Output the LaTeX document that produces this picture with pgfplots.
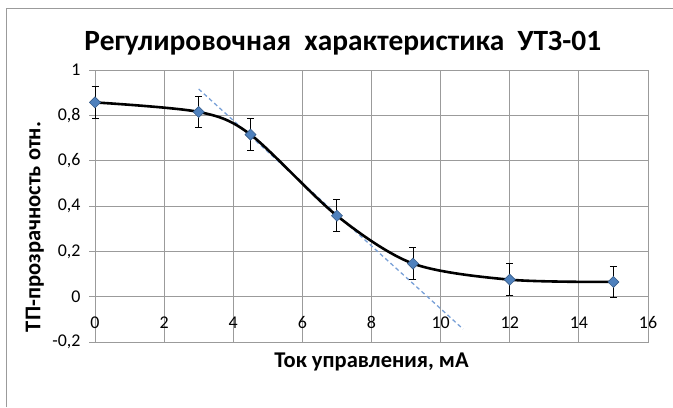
\documentclass[border=0pt]{standalone}
\usepackage{pgfplots}
\pgfplotsset{compat=1.18}
\usepackage{fontspec}
\setmainfont{Carlito}
\definecolor{gridgray}{RGB}{155,155,155}
\definecolor{mkfill}{RGB}{79,129,189}
\definecolor{mkdraw}{RGB}{56,93,138}
\definecolor{dashblue}{RGB}{120,160,215}
\begin{document}
\begin{tikzpicture}[x=1bp,y=1bp]
\useasboundingbox (0,0) rectangle (673,407);
\draw[gridgray, line width=1.2bp] (6.5,0) -- (6.5,398.5) -- (673,398.5);
\begin{axis}[
  at={(95bp,65bp)}, anchor=south west,
  scale only axis, width=553bp, height=272bp,
  xmin=0, xmax=16, ymin=-0.2, ymax=1,
  xtick={0,2,...,16}, ytick={-0.2,0,0.2,0.4,0.6,0.8,1},
  grid=major,
  major grid style={gridgray, line width=0.9bp},
  axis line style={gridgray, line width=0.9bp},
  xtick style={draw=none},
  ytick style={gridgray, line width=0.9bp},
  tick align=outside, major tick length=6bp,
  ytick pos=left,
  /pgf/number format/assume math mode=true,
  /pgf/number format/use comma,
  /pgf/number format/fixed,
  /pgf/number format/precision=1,
  ticklabel style={font=\fontsize{18}{20}\selectfont},
  xticklabel style={yshift=35bp},
  yticklabel style={xshift=-5bp},
  title={Регулировочная\ \ характеристика\ \ УТЗ-01},
  title style={font=\fontsize{29.5}{33}\selectfont\bfseries, at={(axis description cs:0.448,1.077)}, anchor=center},
  xlabel={Ток управления, мА},
  xlabel style={font=\fontsize{22.6}{25}\selectfont\bfseries, at={(axis description cs:0.5,-0.074)}, anchor=center},
  ylabel={ТП-прозрачность отн.},
  ylabel style={font=\fontsize{22.6}{25}\selectfont\bfseries, at={(axis description cs:-0.109,0.423)}, anchor=center, rotate=0},
  clip=false,
]
\addplot[dashblue, line width=1.3bp, dash pattern=on 4bp off 3bp] coordinates {(3,0.916) (10.65,-0.143)};
\addplot[black, line width=2.6bp, smooth, no marks] coordinates {
(0,0.857) (3,0.815) (4.5,0.715) (7,0.357) (9.2,0.146) (12,0.075) (15,0.065)};
\addplot[only marks, mark=square*, mark size=3.9bp,
  mark options={rotate=45, fill=mkfill, draw=mkdraw, line width=0.6bp},
  error bars/.cd, y dir=both, y fixed=0.07,
  error bar style={black, line width=0.9bp},
  error mark options={rotate=90, mark size=3.5bp, black, line width=0.9bp}]
  coordinates {(0,0.857) (3,0.815) (4.5,0.715) (7,0.357) (9.2,0.146) (12,0.075) (15,0.065)};
\end{axis}
\end{tikzpicture}
\end{document}
